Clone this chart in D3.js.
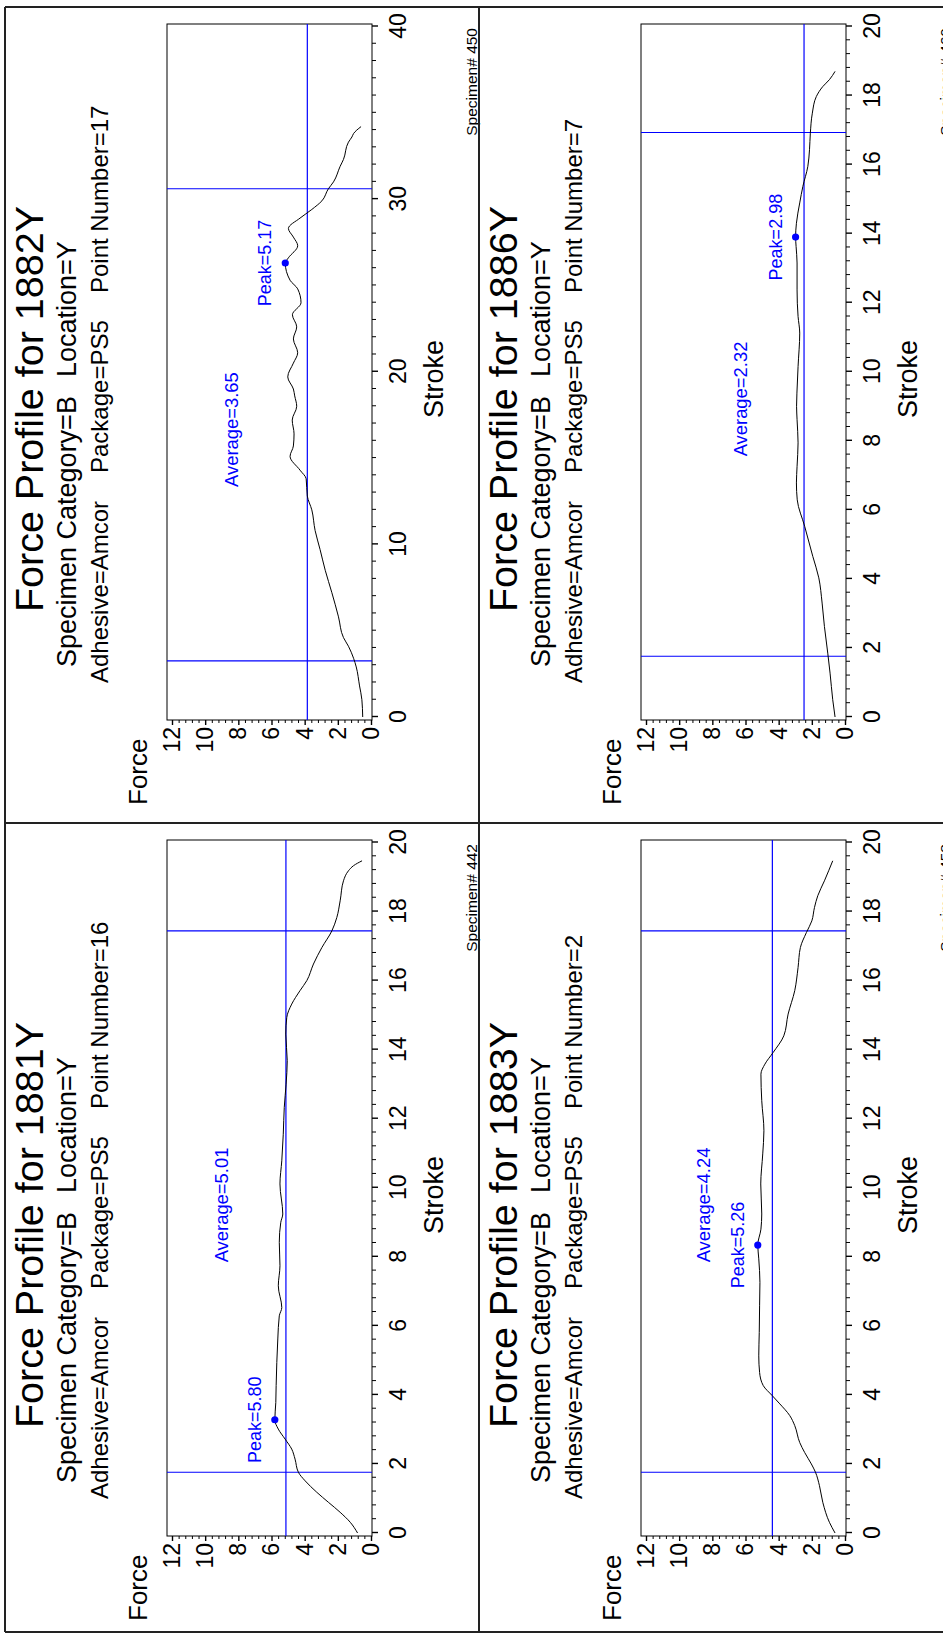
<!DOCTYPE html>
<html>
<head>
<meta charset="utf-8">
<script src="https://cdn.jsdelivr.net/npm/d3@7"></script>
<style>
  body { margin: 0; background: #fff; }
  svg { display: block; font-family: "Liberation Sans", Arial, Helvetica, sans-serif; }
</style>
</head>
<body>
<svg id="chart" width="943" height="1635"></svg>
<script>
// ---- data ----
const panelIds     = ['1882Y', '1881Y', '1886Y', '1883Y'];
const pointNumbers = [17, 16, 7, 2];
const specimens    = ['450', '442', '460', '458'];
const strokeMax    = [40, 20, 20, 20];
const majorStep    = [10, 2, 2, 2];
const minorStep    = [1, 0.4, 0.4, 0.4];
const forceTicks   = [0, 2, 4, 6, 8, 10, 12];

const averages     = [3.65, 5.01, 2.32, 4.24];   // printed value
const averageLine  = [3.84, 5.13, 2.47, 4.38];   // where the blue line sits
const avgLabelAt   = [[13.33, 8.0], [7.84, 8.61], [7.55, 5.89], [7.84, 8.14]];
const rangeStart   = [3.25, 1.76, 1.76, 1.76];
const rangeEnd     = [30.6, 17.44, 16.93, 17.44];
const peaks        = [[26.3, 5.17], [3.28, 5.80], [13.9, 2.98], [8.34, 5.26]];

const curve1882 = [[0,0.5],[1.0,0.55],[1.8,0.69],[2.9,0.89],[3.4,1.05],[4.1,1.36],[4.6,1.66],[5.8,1.96],
  [7.2,2.36],[8.5,2.76],[9.7,3.07],[10.8,3.37],[12.0,3.57],[12.8,3.84],[13.8,3.91],[14.3,4.28],[15.1,4.88],
  [15.7,4.68],[16.4,4.64],[17.2,4.75],[18.0,4.48],[18.6,4.6],[19.0,4.68],[19.7,5.02],[20.5,4.68],[21.1,4.42],
  [21.9,4.68],[22.6,4.48],[23.3,4.74],[24.0,4.22],[24.8,4.42],[25.3,4.88],[26.3,5.17],[26.6,4.98],[27.3,4.42],
  [27.8,4.68],[28.3,4.98],[28.9,4.28],[29.4,3.57],[29.9,2.96],[30.6,2.57],[31.0,2.26],[31.9,1.86],[32.3,1.66],
  [33.3,1.36],[33.6,1.15],[33.8,1.05],[34.2,0.6]];
const curve1881 = [[0,0.81],[0.31,1.25],[0.6,1.86],[0.89,2.57],[1.18,3.27],[1.51,3.97],[1.76,4.38],[2.14,4.58],
  [2.43,4.78],[2.72,5.18],[3.01,5.59],[3.28,5.80],[3.78,5.74],[4.27,5.72],[4.94,5.68],[5.62,5.62],[6.29,5.53],
  [6.53,5.38],[7.16,5.59],[7.74,5.49],[8.42,5.53],[9.0,5.44],[9.24,5.32],[10.11,5.49],[10.78,5.38],[11.55,5.29],
  [12.33,5.23],[13.0,5.12],[13.68,5.05],[14.45,5.14],[14.93,5.08],[15.32,4.78],[15.71,4.28],[16.0,3.87],
  [16.48,3.47],[16.96,2.96],[17.44,2.36],[17.83,2.06],[18.31,1.86],[18.89,1.66],[19.18,1.36],[19.33,1.05],[19.47,0.54]];
const curve1886 = [[0,0.6],[0.5,0.74],[1.27,0.9],[1.85,1.04],[2.62,1.24],[3.3,1.38],[4.03,1.58],[4.65,1.94],
  [5.52,2.43],[6.29,2.88],[6.78,2.93],[7.26,2.89],[7.94,2.83],[8.61,2.89],[9.0,2.92],[9.38,2.9],[10.15,2.83],
  [11.12,2.73],[11.6,2.83],[12.37,2.89],[13.15,2.89],[13.63,2.95],[13.9,2.98],[14.3,2.93],[14.89,2.73],
  [15.37,2.54],[15.95,2.24],[16.43,2.14],[16.91,2.09],[17.49,1.97],[17.97,1.73],[18.26,1.34],[18.46,0.94],[18.7,0.6]];
const curve1883 = [[0,0.6],[0.31,0.94],[0.89,1.34],[1.37,1.54],[1.76,1.78],[2.0,2.03],[2.33,2.43],[2.62,2.73],
  [3.11,3.03],[3.4,3.33],[3.74,3.93],[3.98,4.39],[4.27,4.93],[4.65,5.15],[5.13,5.2],[5.81,5.17],[6.58,5.15],
  [7.26,5.13],[7.94,5.2],[8.34,5.26],[8.8,5.07],[9.24,5.02],[10.11,5.08],[10.98,4.96],[11.65,4.89],[12.52,5.02],
  [13.29,5.07],[13.58,4.83],[13.92,4.33],[14.4,3.69],[15.03,3.43],[15.71,3.03],[16.38,2.83],[16.96,2.69],
  [17.39,2.33],[17.73,2.0],[18.12,1.84],[18.46,1.64],[18.89,1.24],[19.47,0.74]];
const curves = [curve1882, curve1881, curve1886, curve1883];

// ---- layout (page is printed landscape, turned onto a portrait sheet) ----
const svg = d3.select('#chart');
const panelX = [5, 5, 479, 479];
const panelY = [7, 823, 7, 823];
const W = 816;                         // landscape width of one panel
const frame = { left: 103, right: 799, top: 162, bottom: 367 };
const blue = '#0000ff';

svg.append('rect').attr('width', 943).attr('height', 1635).attr('fill', '#fff');

panelIds.forEach((id, i) => {
    const g = svg.append('g')
        .attr('transform', `translate(${panelX[i]},${panelY[i] + W}) rotate(-90)`);

    const x = d3.scaleLinear().domain([0, strokeMax[i]]).range([106, 796.5]);
    const y = d3.scaleLinear().domain([0, 12]).range([366, 167]);

    // titles
    g.append('text').attr('x', 414).attr('y', 38).attr('text-anchor', 'middle')
        .attr('font-size', 39.5).text(`Force Profile for ${id}`);
    g.append('text').attr('x', 156).attr('y', 71).attr('font-size', 27).text('Specimen Category=B');
    g.append('text').attr('x', 446).attr('y', 71).attr('font-size', 27).text('Location=Y');
    g.append('text').attr('x', 140).attr('y', 103).attr('font-size', 24).text('Adhesive=Amcor');
    g.append('text').attr('x', 350).attr('y', 103).attr('font-size', 24).text('Package=PS5');
    g.append('text').attr('x', 530).attr('y', 103).attr('font-size', 24).text(`Point Number=${pointNumbers[i]}`);

    // axes
    const isMajor = (v, step) => Math.abs(v / step - Math.round(v / step)) < 1e-6;
    const xMinor = d3.range(0, Math.round(strokeMax[i] / minorStep[i]) + 1)
        .map(k => k * minorStep[i]).filter(v => !isMajor(v, majorStep[i]));
    const xMajor = d3.range(0, strokeMax[i] + 1e-6, majorStep[i]);
    const yMinor = d3.range(0, 31).map(k => k * 0.4).filter(v => !isMajor(v, 2));

    const styleAxis = a => {
        a.select('.domain').remove();
        a.attr('font-family', null).attr('font-size', 23);
        a.selectAll('line').attr('stroke', '#000');
        a.selectAll('text').attr('fill', '#000');
    };

    g.append('g').attr('transform', `translate(0,${frame.bottom})`)
        .call(d3.axisBottom(x).tickValues(xMinor).tickSize(4).tickFormat(''))
        .call(styleAxis);
    g.append('g').attr('transform', `translate(0,${frame.bottom})`)
        .call(d3.axisBottom(x).tickValues(xMajor).tickSize(6).tickPadding(12).tickFormat(d3.format('d')))
        .call(styleAxis)
        .selectAll('line').attr('stroke-width', 1.4);
    g.append('g').attr('transform', `translate(${frame.left},0)`)
        .call(d3.axisLeft(y).tickValues(yMinor).tickSize(3).tickFormat(''))
        .call(styleAxis);
    g.append('g').attr('transform', `translate(${frame.left},0)`)
        .call(d3.axisLeft(y).tickValues(forceTicks).tickSize(5).tickPadding(2))
        .call(styleAxis)
        .selectAll('line').attr('stroke-width', 1.4);

    g.append('rect')
        .attr('x', frame.left).attr('y', frame.top)
        .attr('width', frame.right - frame.left).attr('height', frame.bottom - frame.top)
        .attr('fill', 'none').attr('stroke', '#000').attr('stroke-width', 1);

    g.append('text').attr('x', 18).attr('y', 142).attr('font-size', 26).text('Force');
    g.append('text').attr('x', 444).attr('y', 438).attr('text-anchor', 'middle')
        .attr('font-size', 27).text('Stroke');

    // averaging window and average
    [rangeStart[i], rangeEnd[i]].forEach(s => {
        g.append('line').attr('x1', x(s)).attr('x2', x(s))
            .attr('y1', frame.top).attr('y2', frame.bottom)
            .attr('stroke', blue).attr('stroke-width', 1.2);
    });
    g.append('line').attr('x1', frame.left).attr('x2', frame.right)
        .attr('y1', y(averageLine[i])).attr('y2', y(averageLine[i]))
        .attr('stroke', blue).attr('stroke-width', 1.2);

    // force curve
    const line = d3.line().x(d => x(d[0])).y(d => y(d[1])).curve(d3.curveMonotoneX);
    g.append('path').datum(curves[i])
        .attr('d', line)
        .attr('fill', 'none').attr('stroke', '#000').attr('stroke-width', 1);

    // peak
    const [ps, pf] = peaks[i];
    g.append('circle').attr('cx', x(ps)).attr('cy', y(pf)).attr('r', 3.6).attr('fill', blue);
    g.append('text').attr('x', x(ps)).attr('y', y(pf) - 14).attr('text-anchor', 'middle')
        .attr('font-size', 18).attr('fill', blue).text(`Peak=${pf.toFixed(2)}`);

    g.append('text').attr('x', x(avgLabelAt[i][0])).attr('y', y(avgLabelAt[i][1]))
        .attr('font-size', 18.4).attr('fill', blue).text(`Average=${averages[i].toFixed(2)}`);

    // specimen tag sits at the sheet edge (cut off on the right column, as in the print)
    g.append('text').attr('x', 795).attr('y', 472).attr('text-anchor', 'end')
        .attr('font-size', 15.5).text(`Specimen# ${specimens[i]}`);
});

// page frame
const frameLines = [
    [5, 7, 943, 7], [5, 7, 5, 1632], [5, 1632, 943, 1632],
    [479, 7, 479, 1632], [5, 823, 943, 823]
];
svg.append('g').selectAll('line').data(frameLines).enter().append('line')
    .attr('x1', d => d[0]).attr('y1', d => d[1])
    .attr('x2', d => d[2]).attr('y2', d => d[3])
    .attr('stroke', '#222').attr('stroke-width', 2);
</script>
</body>
</html>
